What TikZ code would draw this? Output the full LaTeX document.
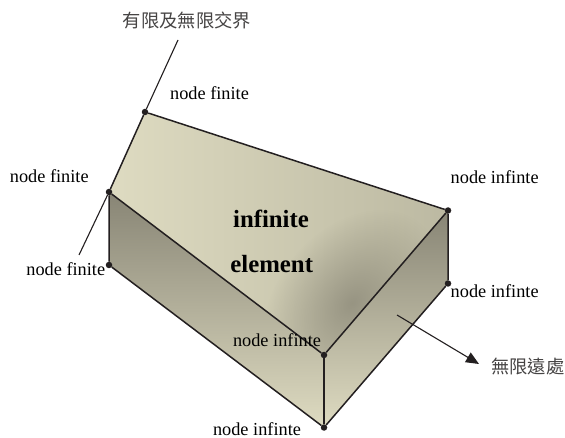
\documentclass[tikz,border=0pt]{standalone}
\usepackage{fontspec}
\setmainfont{Liberation Serif}
\newfontfamily\cjk{Noto Sans CJK TC}
\usetikzlibrary{arrows.meta, fadings, backgrounds}
\definecolor{edgeline}{RGB}{35,31,32}
\definecolor{facelight}{RGB}{222,219,193}
\definecolor{facemid}{RGB}{188,185,162}
\definecolor{facedark}{RGB}{136,133,117}
\definecolor{cjkgray}{RGB}{70,68,68}
\tikzfading[name=spotfade, inner color=transparent!25, outer color=transparent!100]
\tikzset{
  nodedot/.style={circle, fill=edgeline, inner sep=0pt, minimum size=6.5pt},
  edgeln/.style={draw=edgeline, line width=1.5pt},
  leadln/.style={draw=edgeline, line width=1.1pt},
  lbl/.style={anchor=base, text=black, inner sep=0pt, font=\fontsize{18.3}{22}\selectfont},
  elemlbl/.style={anchor=base, text=black, inner sep=0pt, font=\fontsize{24.8}{30}\selectfont\bfseries},
  cjklbl/.style={text=cjkgray, inner sep=0pt, font=\fontsize{18.3}{22}\selectfont\cjk}
}
\begin{document}
\begin{tikzpicture}[x=1pt, y=-1pt]
      \useasboundingbox (0,0) rectangle (565,438);
      % corners of the element
      \node[nodedot] (ntop) at (145,112) {};
      \node[nodedot] (nleft) at (109,192) {};
      \node[nodedot] (nlow) at (109,265) {};
      \node[nodedot] (nright) at (448,210.5) {};
      \node[nodedot] (nrlow) at (448,283.5) {};
      \node[nodedot] (nmid) at (324,355) {};
      \node[nodedot] (nbot) at (324,427.5) {};
      \coordinate (bordertop) at (178,40);
      \coordinate (borderend) at (79,255);
      \coordinate (farstart) at (397,315);
      \coordinate (farend) at (479,364);
      % faces
      \begin{scope}[on background layer]
        \begin{scope}
          \clip (ntop.center) -- (nleft.center) -- (nmid.center) -- (nright.center) -- cycle;
          \shade[left color=facelight, right color=facemid] (109,112) rectangle (448,355);
          \fill[facedark, path fading=spotfade, fit fading=false,
            fading transform={shift={(352,303)}, rotate=49, xscale=4.2, yscale=3}]
            (202,150) rectangle (502,450);
        \end{scope}
        \shade[top color=facedark, bottom color=facelight]
          (nleft.center) -- (nmid.center) -- (nbot.center) -- (nlow.center) -- cycle;
        \shade[top color=facedark, bottom color=facelight]
          (nright.center) -- (nrlow.center) -- (nbot.center) -- (nmid.center) -- cycle;
      \end{scope}
      % edges
      \draw[edgeln] (ntop) -- (nright) -- (nmid) -- (nleft);
      \draw[edgeln] (nleft) -- (nlow) -- (nbot) -- (nrlow) -- (nright);
      \draw[edgeln] (nmid) -- (nbot);
      \draw[edgeln] (ntop) -- (nleft);
      \draw[leadln] (bordertop) -- (ntop);
      \draw[leadln] (nleft) -- (borderend);
      \draw[leadln, -{Triangle[length=13pt, width=11pt]}] (farstart) -- (farend);
      % labels
      \node[lbl] (lbltop) at (209.5,100) {node finite};
      \node[lbl] (lblleft) at (49.3,182.7) {node finite};
      \node[lbl] (lbllow) at (65.8,276) {node finite};
      \node[lbl] (lblright) at (494.7,184) {node infinte};
      \node[lbl] (lblrlow) at (494.7,298) {node infinte};
      \node[lbl] (lblmid) at (277,346) {node infinte};
      \node[lbl] (lblbot) at (257,435) {node infinte};
      \node[elemlbl] (elemone) at (271,228) {infinite};
      \node[elemlbl] (elemtwo) at (271.7,272.7) {element};
      \node[cjklbl] (lblborder) at (187,20.7) {有限及無限交界};
      \node[cjklbl] (lblfar) at (527.8,366.7) {無限遠處};
    \end{tikzpicture}
\end{document}
